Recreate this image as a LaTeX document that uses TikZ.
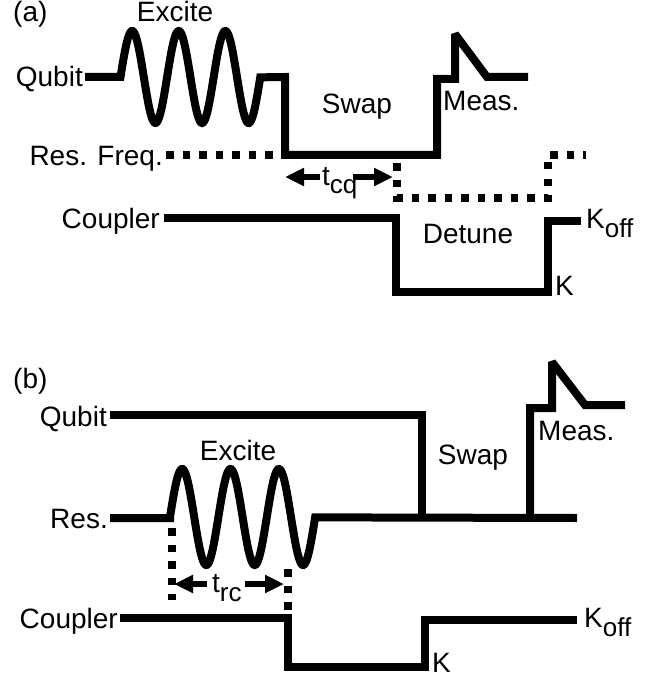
\documentclass[tikz,border=0pt]{standalone}
\usepackage{fontspec}
\setmainfont{Liberation Sans}
\usetikzlibrary{arrows.meta}
\newcommand{\lowsub}[1]{\raisebox{-9pt}{\fontsize{26}{28}\selectfont #1}}

\begin{document}
\begin{tikzpicture}[
  x=1pt, y=-1pt,
  lbl/.style={font=\fontsize{28}{30}\selectfont, inner sep=0pt},
  wave/.style={line width=8pt, line join=miter, miter limit=2},
  dots/.style={line width=7.5pt, dash pattern=on 7.5pt off 9pt},
  timearrow/.style={-{Triangle[length=19pt,width=17pt]}, line width=6.5pt}
]
  \useasboundingbox (0,0) rectangle (671,679);

  % (a) labels
  \node[lbl, anchor=base west] (taga) at (13,22) {(a)};
  \node[lbl, anchor=base] (excitea) at (175,22) {Excite};
  \node[lbl, anchor=base east] (qubita) at (83,87) {Qubit};
  \node[lbl, anchor=base] (swapa) at (357,114) {Swap};
  \node[lbl, anchor=base west] (measa) at (443,111) {Meas.};
  \node[lbl, anchor=base east] (resa) at (163,165) {Res. Freq.};
  \node[lbl, anchor=base west] (tcq) at (322,185) {t\lowsub{cq}};
  \node[lbl, anchor=base east] (couplera) at (160,228) {Coupler};
  \node[lbl, anchor=base] (detune) at (468,243) {Detune};
  \node[lbl, anchor=base west] (ka) at (555,295) {K};
  \node[lbl, anchor=base west] (koffa) at (586,228) {K\lowsub{off}};

  % (a) timing edges
  \coordinate (cqstart) at (285,177);
  \coordinate (cqend) at (393,177);

  % (a) qubit
  \draw[wave] (85,77) -- (120.5,77)
    -- plot[domain=0:3, samples=150, smooth] ({120.5+46.6*\x}, {77-46*sin(360*\x)})
    -- (285,77) -- (285,155) -- (437,155) -- (437,79) -- (455,79) -- (455,34)
    -- (487,77) -- (528,77);
  % (a) resonator
  \draw[dots] (166,155) -- (280,155);
  \draw[dots] (397,163) -- (397,198) -- (548,198) -- (548,155) -- (586,155);
  % (a) coupler
  \draw[wave] (164,218) -- (396,218) -- (396,292) -- (548,292) -- (548,221) -- (581,221);
  \draw[timearrow] (320,177) -- (cqstart);
  \draw[timearrow] (353,177) -- (cqend);

  % (b) labels
  \node[lbl, anchor=base west] (tagb) at (13,388) {(b)};
  \node[lbl, anchor=base east] (qubitb) at (107,426) {Qubit};
  \node[lbl, anchor=base] (exciteb) at (238,460) {Excite};
  \node[lbl, anchor=base] (swapb) at (473,464) {Swap};
  \node[lbl, anchor=base west] (measb) at (538,440) {Meas.};
  \node[lbl, anchor=base east] (resb) at (108,528) {Res.};
  \node[lbl, anchor=base west] (trc) at (212,592) {t\lowsub{rc}};
  \node[lbl, anchor=base east] (couplerb) at (118,628) {Coupler};
  \node[lbl, anchor=base west] (kb) at (432,672) {K};
  \node[lbl, anchor=base west] (koffb) at (584,627) {K\lowsub{off}};

  % (b) timing edges
  \coordinate (rcstart) at (174,584);
  \coordinate (rcend) at (284,584);

  % (b) qubit
  \draw[wave] (110,415) -- (422,415) -- (422,518);
  % (b) resonator
  \draw[wave] (110,518) -- (170,518)
    -- plot[domain=0:3, samples=150, smooth] ({170+48.4*\x}, {517-48*sin(360*\x)})
    -- (577,518);
  \draw[wave] (530,518) -- (530,408) -- (552,408) -- (552,362) -- (585,405) -- (625,405);
  \draw[dots] (172,528) -- (172,600);
  \draw[dots] (288,569) -- (288,612);
  % (b) coupler
  \draw[wave] (120,618) -- (288,618) -- (288,667) -- (425,667) -- (425,620) -- (577,620);
  \draw[timearrow] (207,584) -- (rcstart);
  \draw[timearrow] (245,584) -- (rcend);
\end{tikzpicture}
\end{document}
